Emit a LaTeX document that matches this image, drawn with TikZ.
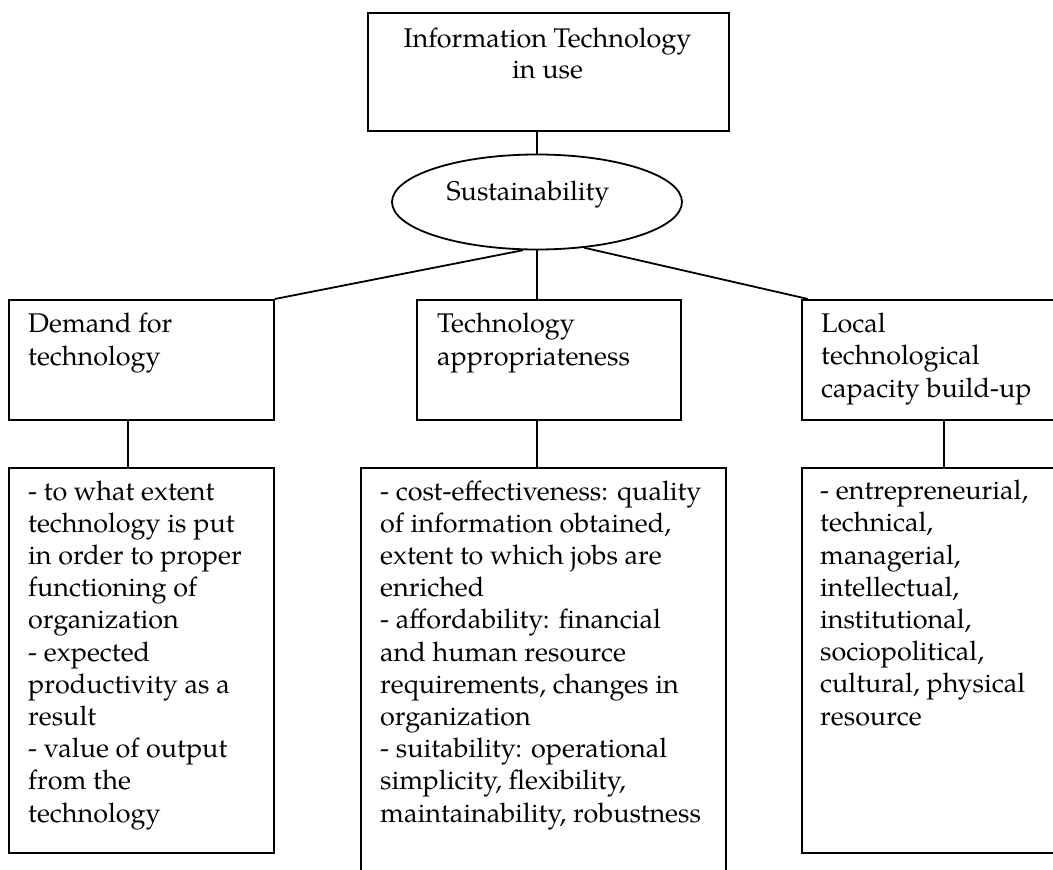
\documentclass[tikz,border=0pt]{standalone}
\usepackage{fontspec}
\setmainfont{TeX Gyre Pagella}
\usetikzlibrary{shapes.geometric,calc}
\begin{document}
\begin{tikzpicture}[x=1pt,y=-1pt,
  frame/.style={draw, line width=1.8pt, rectangle, inner sep=0pt, anchor=north west},
  txt/.style={anchor=base west, align=left, inner sep=0pt, font=\fontsize{27}{32.2}\selectfont},
  link/.style={line width=1.8pt}]
\useasboundingbox (0,0) rectangle (1053,870);
\clip (0,0) rectangle (1053,870);

% boxes
\node[frame, minimum width=361pt, minimum height=118pt] (top) at (367,12) {};
\node[draw, line width=1.8pt, ellipse, inner sep=0pt, minimum width=290pt, minimum height=95pt] (ell) at (537,202) {};
\node[frame, minimum width=265pt, minimum height=120pt] (d1) at (8,299) {};
\node[frame, minimum width=264pt, minimum height=120pt] (m1) at (416,299) {};
\node[frame, minimum width=300pt, minimum height=120pt] (r1) at (801,299) {};
\node[frame, minimum width=265pt, minimum height=385pt] (d2) at (8,467) {};
\node[frame, minimum width=365pt, minimum height=430pt] (m2) at (360,467) {};
\node[frame, minimum width=300pt, minimum height=385pt] (r2) at (801,467) {};

% texts (anchored at the baseline of their last line)
\node[txt, anchor=base, align=center, font=\fontsize{27}{31}\selectfont] (ttop) at (547.5,78) {Information Technology\\in use};
\node[txt, anchor=base] (tell) at (528,200) {Sustainability};
\node[txt] (td1) at (28,365) {Demand for\\technology};
\node[txt] (tm1) at (437,365) {Technology\\appropriateness};
\node[txt] (tr1) at (821,397) {Local\\technological\\capacity build-up};
\node[txt] (td2) at (28,822) {- to what extent\\technology is put\\in order to proper\\functioning of\\organization\\- expected\\productivity as a\\result\\- value of output\\from the\\technology};
\node[txt] (tm2) at (380,822) {- cost-effectiveness: quality\\of information obtained,\\extent to which jobs are\\enriched\\- affordability: financial\\and human resource\\requirements, changes in\\organization\\- suitability: operational\\simplicity, flexibility,\\maintainability, robustness};
\node[txt] (tr2) at (820,725) {- entrepreneurial,\\technical,\\managerial,\\intellectual,\\institutional,\\sociopolitical,\\cultural, physical\\resource};

% connectors
\draw[link] (top.south -| ell.north) -- (ell.north);
\draw[link] (ell.-106) -- (d1.north east);
\draw[link] (ell.south) -- (ell.south |- m1.north);
\coordinate (rjoin) at ($(r1.north west)+(7,0)$);
\draw[link] (ell.-44) -- (rjoin);
\draw[link] ($(d1.south west)+(120,0)$) -- ($(d2.north west)+(120,0)$);
\draw[link] (m1.south -| ell.south) -- (m2.north -| ell.south);
\draw[link] ($(r1.south west)+(143,0)$) -- ($(r2.north west)+(143,0)$);
\end{tikzpicture}
\end{document}
